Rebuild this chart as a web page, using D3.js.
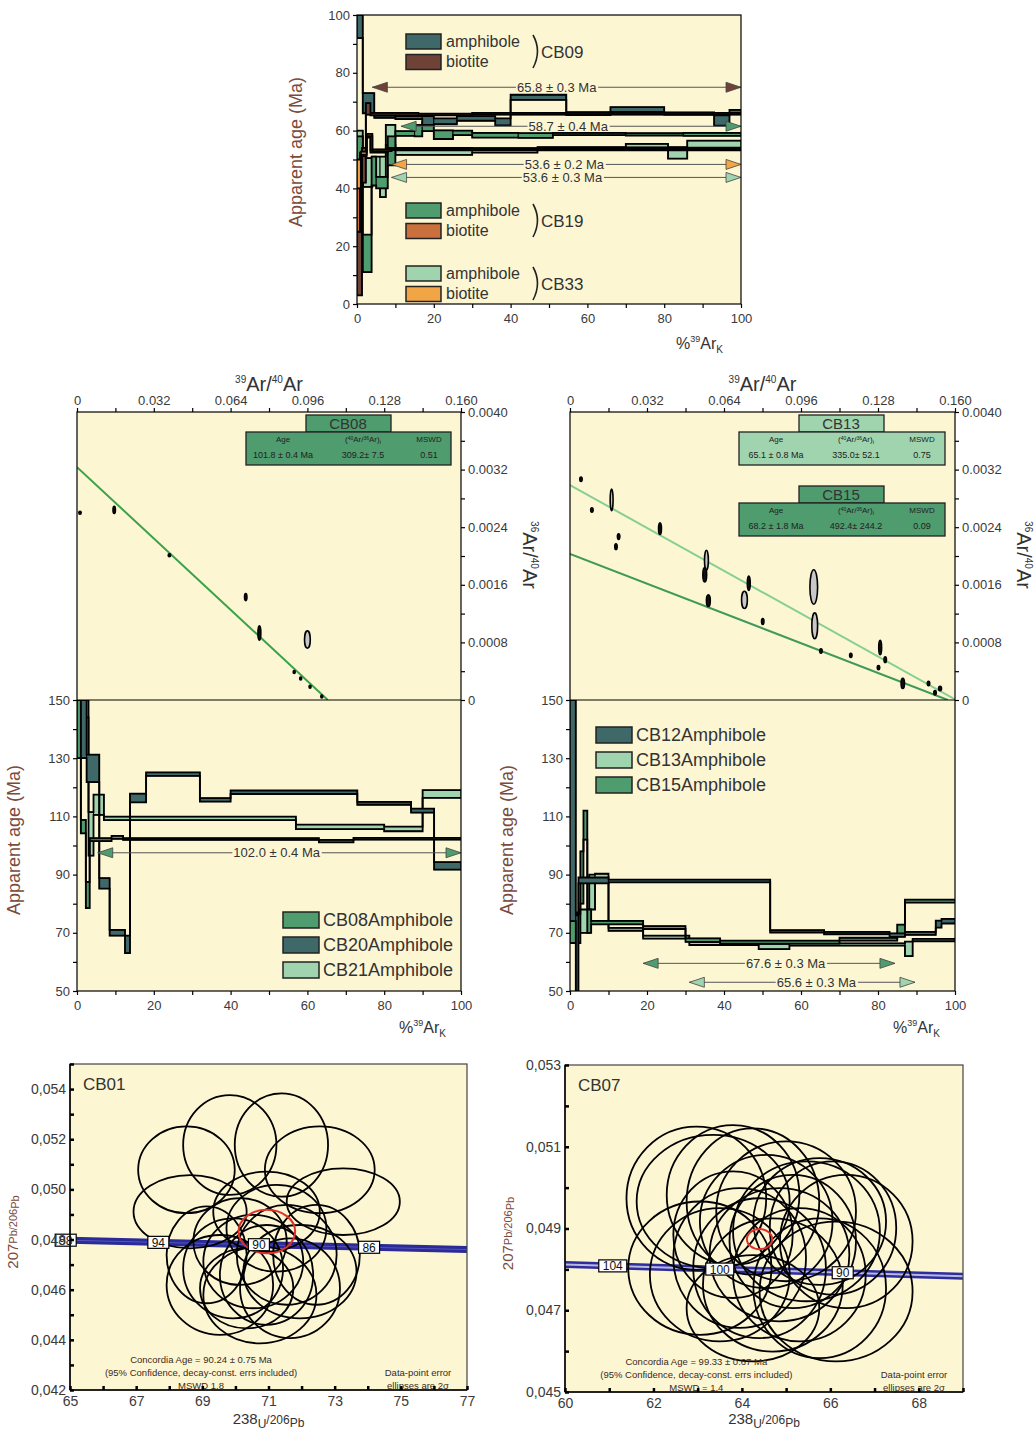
<!DOCTYPE html>
<html><head><meta charset="utf-8">
<script src="https://cdn.jsdelivr.net/npm/d3@7"></script>
<style>body{margin:0;background:#fff}text{font-family:"Liberation Sans",Arial,sans-serif}</style>
</head><body><svg id="c" width="1034" height="1430"></svg>
<script>
// ---------------- DATA ----------------
// step-heating spectra: [cumulative %39ArK at step end, apparent age (Ma), error (Ma)]
const cb09Amph = [[1.5,96,4],[4.5,69.5,3.5],[10,64.8,0.4],[17,64.5,0.5],[20,63.5,1.5],[26,63.2,1],[36,64.2,0.8],[40,63,1.2],[54.5,71.5,0.9],[66,65.9,0.5],[80,67.3,0.8],[93,65.9,0.4],[97,63.5,1.8],[100,66.5,0.7]];
const cb09Bio = [[1.3,14,11],[2.3,48,6],[3.5,67.5,2],[16,65.7,0.4],[30,65.6,0.3],[55,65.8,0.3],[100,65.8,0.3]];
const cb19Amph = [[1.5,50,8],[3.8,17.5,6.5],[5,46,5],[8,42,2],[10,53,5],[15,59,0.8],[17,60,2],[20,61.3,1.5],[25,58.6,1.5],[30,59.2,0.8],[42,58.4,0.8],[51,58.3,0.8],[70,58.8,0.4],[85,58.7,0.4],[100,58.7,0.5]];
const cb19Bio = [[0.8,35,10],[2.5,51.8,0.6],[3.5,58.2,0.6],[8,52.8,0.4],[30,53.7,0.3],[100,53.5,0.3]];
const cb33Amph = [[1.5,55,5],[4,45.5,5],[6,47,4],[7.5,44,7],[10,58.5,3.5],[30,52.4,0.8],[47,53,0.6],[70,53.8,0.5],[81,54.8,0.6],[86,52.3,2],[100,55.3,1.2]];
const cb33Bio = [[1,45,5],[2.5,52.2,0.5],[4,58.5,0.4],[9,53.2,0.3],[100,53.6,0.3]];

const cb08Amph = [[1,140,10],[2.3,106.5,2.3],[3.3,83,4.5],[9,102,0.5],[12,102.8,0.5],[63,102.2,0.3],[72,101.5,0.4],[100,102.3,0.3]];
const cb20Amph = [[2.5,140,10],[5.8,126.5,4.7],[8.5,87,1.8],[12.5,70,1],[13.8,66,3],[18,116.3,1.5],[32,124.5,0.6],[40,115.7,0.6],[73,118.3,0.6],[87,114.5,0.5],[93,112,0.7],[100,93,1.3]];
const cb21Amph = [[1.5,150,3],[3,147,3],[4.3,104,7.5],[7,114,3.5],[57,109.3,0.6],[80,106.4,0.8],[90,105.7,0.8],[100,117.7,1.3]];

const cb12Amph = [[1.5,112,38],[2.2,63,13],[10,88,1],[52,87.8,0.5],[66,70.5,0.4],[83,69.9,0.4],[87,69.2,0.6],[95,69.8,0.5],[96.5,73,1.2],[100,74,0.8]];
const cb13Amph = [[2.5,72,5],[5,74,4],[6.5,84,6],[10,88.7,1.6],[19,71.2,0.5],[31,68.5,0.5],[49,66.3,0.5],[57,65.3,0.9],[87,66.0,0.4],[89,64.5,2.5],[100,67.5,0.4]];
const cb15Amph = [[2.7,71.5,5],[3.5,89,9],[4.5,107,5],[5.5,74,4],[19,73.5,0.6],[30,71.8,0.5],[39,67.5,0.6],[70,66.8,0.5],[85,67.8,0.5],[87,71,1.8],[100,80.9,0.5]];

// plateau arrows: [from %, to %, y position (Ma), label, label centre %]
const topPlateaus = [[4,100,75,"65.8 ± 0.3 Ma",52],[11.5,100,61.5,"58.7 ± 0.4 Ma",55],[9,100,48.3,"53.6 ± 0.2 Ma",54],[9,100,43.8,"53.6 ± 0.3 Ma",53.5]];
const leftPlateaus = [[5.4,100,97.5,"102.0 ± 0.4 Ma",52]];
const rightPlateaus = [[19,84.4,59.5,"67.6 ± 0.3 Ma",56],[31,89.6,53,"65.6 ± 0.3 Ma",64]];

// inverse isochrons: [39Ar/40Ar, 36Ar/40Ar, half-width x, half-width y]
const cb08Iso = [[0.00125,0.0026,0.0005,0.00002],[0.0155,0.00264,0.0005,0.00005],[0.0385,0.00201,0.0005,0.00002],[0.0703,0.00143,0.0005,0.00005],[0.076,0.00093,0.0006,0.0001],[0.096,0.00084,0.0012,0.00012],[0.0905,0.00039,0.0004,0.00002],[0.0932,0.0003,0.0004,0.00002],[0.0971,0.000185,0.0004,0.00002],[0.102,0.00005,0.0004,0.00002]];
const cb1315Iso = [[0.00456,0.003065,0.0005,0.00003],[0.0091,0.00264,0.0005,0.00003],[0.0173,0.00278,0.0006,0.00015],[0.0202,0.00227,0.0005,0.00004],[0.0191,0.00213,0.0005,0.00004],[0.0374,0.00238,0.0006,0.00008],[0.0567,0.00194,0.0008,0.00014],[0.056,0.00174,0.0008,0.0001],[0.0575,0.00138,0.0008,0.00008],[0.0725,0.00139,0.0012,0.00012],[0.0743,0.00162,0.0006,0.0001],[0.0801,0.00109,0.0005,0.00004],[0.1013,0.00157,0.0016,0.00024],[0.1017,0.00103,0.0012,0.00018],[0.1043,0.00068,0.0005,0.00003],[0.1167,0.00062,0.0005,0.00003],[0.1289,0.00073,0.0006,0.0001],[0.1282,0.00045,0.0005,0.00003],[0.131,0.00056,0.0005,0.00004],[0.1383,0.00023,0.0007,0.00007],[0.149,0.00023,0.0005,0.00003],[0.1517,0.0001,0.0005,0.00003],[0.1538,0.00016,0.0006,0.00003]];
const cb08Line = [[0,0.003234],[0.1045,0]];
const cb13Line = [[0,0.002985],[0.1605,0]];
const cb15Line = [[0,0.00203],[0.157,0]];
const cb08Table = ["CB08","101.8 ± 0.4 Ma","309.2± 7.5","0.51"];
const cb13Table = ["CB13","65.1 ± 0.8 Ma","335.0± 52.1","0.75"];
const cb15Table = ["CB15","68.2 ± 1.8 Ma","492.4± 244.2","0.09"];

// concordia: ellipses [238U/206Pb, 207Pb/206Pb, half-axis x, half-axis y]
const cb01Ell = [[68.52,0.05078,1.46,0.00173],[69.83,0.05177,1.41,0.00199],[71.39,0.05177,1.41,0.00206],[72.55,0.05078,1.66,0.00173],[73.26,0.04951,1.71,0.00133],[68.63,0.04911,1.71,0.00146],[69.13,0.04739,1.21,0.00193],[69.93,0.04685,1.51,0.00199],[70.54,0.04712,1.51,0.00186],[70.94,0.04659,1.41,0.00199],[71.55,0.04739,1.51,0.00199],[71.95,0.04672,1.71,0.00186],[72.45,0.04739,1.31,0.00199],[70.74,0.04579,1.71,0.00193],[69.53,0.04619,1.61,0.00199],[70.14,0.04792,1.41,0.00173],[71.24,0.04845,1.51,0.00173],[71.65,0.04606,1.51,0.00199],[70.34,0.04606,1.41,0.0016],[70.94,0.04911,1.61,0.0016]];
const cb07Ell = [[62.97,0.04974,1.58,0.00175],[63.35,0.04966,1.73,0.00163],[63.80,0.04982,1.50,0.00171],[64.25,0.04966,1.50,0.00179],[64.55,0.04917,1.50,0.00163],[65.00,0.04942,1.58,0.00171],[65.46,0.04893,1.66,0.00171],[65.76,0.04917,1.50,0.00155],[66.06,0.04901,1.43,0.00163],[66.36,0.04868,1.50,0.00163],[63.05,0.04803,1.62,0.00163],[63.50,0.04787,1.58,0.00163],[63.95,0.04828,1.50,0.00171],[64.40,0.04803,1.50,0.00171],[64.85,0.04836,1.58,0.00163],[65.30,0.04787,1.50,0.00163],[65.76,0.04754,1.50,0.00171],[66.13,0.04746,1.73,0.00171],[64.70,0.04762,1.58,0.00163],[63.80,0.04885,1.35,0.00155],[65.15,0.04868,1.43,0.00163],[64.25,0.04705,1.50,0.0013]];
const cb01Mean = [70.95,0.04832,0.855,0.00087];
const cb07Mean = [64.40,0.04874,0.286,0.000245];
const cb01Curve = [[65,0.04797],[77,0.04760]];
const cb07Curve = [[60,0.04812],[69,0.04783]];
const cb01AgeLabels = [["98",64.87],["94",67.67],["90",70.71],["86",74.04]];
const cb07AgeLabels = [["104",61.08],["100",63.5],["90",66.28]];
const cb01Text = ["Concordia Age = 90.24 ± 0.75 Ma","(95% Confidence, decay-const. errs included)","MSWD 1.8"];
const cb07Text = ["Concordia Age = 99.33 ± 0.67 Ma","(95% Confidence, decay-const. errs included)","MSWD = 1.4"];

// ---------------- STYLE ----------------
const BG="#fdf6d3", cDark="#3f6868", cBrown="#6e4236", cGreen="#4f9c6e", cOrange="#c9703c", cLight="#9fd4ae", cLtOrange="#f2a544";
const labCol="#3a3a3a", titleCol="#7b4b3b";
const svg=d3.select("#c");
svg.append("rect").attr("width",1034).attr("height",1430).attr("fill","#fff");
let clipN=0;
function makeClip(x,y,w,h){const id="cl"+(clipN++);svg.append("clipPath").attr("id",id).append("rect").attr("x",x).attr("y",y).attr("width",w).attr("height",h);return "url(#"+id+")";}
function styleAxis(g,fs){g.select(".domain").remove();g.selectAll("line").attr("stroke","#000").attr("stroke-width",1.2);g.selectAll("text").attr("fill",labCol).style("font-size",(fs||12)+"px");}

function drawSpectrum(g,x,y,steps,color){
  let prev=0;const boxes=steps.map(s=>{const b={x0:prev,x1:s[0],lo:s[1]-s[2],hi:s[1]+s[2]};prev=s[0];return b;});
  g.append("g").selectAll("rect").data(boxes).join("rect").attr("x",d=>x(d.x0)).attr("width",d=>x(d.x1)-x(d.x0))
   .attr("y",d=>y(d.hi)).attr("height",d=>Math.max(1,y(d.lo)-y(d.hi))).attr("fill",color).attr("stroke","#000").attr("stroke-width",1);
  const up=[],lo=[];boxes.forEach(b=>{up.push([b.x0,b.hi],[b.x1,b.hi]);lo.push([b.x0,b.lo],[b.x1,b.lo]);});
  const ln=d3.line().x(d=>x(d[0])).y(d=>y(d[1]));
  g.append("path").attr("d",ln(up)).attr("fill","none").attr("stroke","#000").attr("stroke-width",1.8);
  g.append("path").attr("d",ln(lo)).attr("fill","none").attr("stroke","#000").attr("stroke-width",1.8);
}
function drawArrow(g,x,y,p,color,fs){
  const [a,b,yv,lab,cx]=p;const yy=y(yv),x1=x(a),x2=x(b);
  g.append("line").attr("x1",x1).attr("x2",x2).attr("y1",yy).attr("y2",yy).attr("stroke","#555").attr("stroke-width",1);
  g.append("path").attr("d",`M${x1},${yy}L${x1+15},${yy-5}L${x1+15},${yy+5}Z`).attr("fill",color).attr("stroke","#444").attr("stroke-width",0.8);
  g.append("path").attr("d",`M${x2},${yy}L${x2-15},${yy-5}L${x2-15},${yy+5}Z`).attr("fill",color).attr("stroke","#444").attr("stroke-width",0.8);
  const bgR=g.append("rect").attr("fill",BG);
  const t=g.append("text").attr("x",x(cx)).attr("y",yy+4.5).attr("text-anchor","middle").style("font-size",(fs||13)+"px").attr("fill","#333").text(lab);
  const bb=t.node().getBBox();
  bgR.attr("x",bb.x-1).attr("y",yy-1.5).attr("width",bb.width+2).attr("height",3);
}
function arK(g,xp,yp){
  const t=g.append("text").attr("x",xp).attr("y",yp).style("font-size","16px").attr("fill","#333");
  t.append("tspan").text("%");t.append("tspan").attr("dy",-7).style("font-size","9px").text("39");
  t.append("tspan").attr("dy",7).text("Ar");t.append("tspan").attr("dy",4).style("font-size","10px").text("K");
}
function appAge(xp,yp){
  svg.append("text").attr("transform",`translate(${xp},${yp}) rotate(-90)`).attr("text-anchor","middle").style("font-size","18px").attr("fill",titleCol).text("Apparent age (Ma)");
}

// ---------------- TOP PANEL ----------------
{
  const X0=357,X1=741,Y0=15,Y1=304;
  const x=d3.scaleLinear([0,100],[X0,X1]),y=d3.scaleLinear([0,100],[Y1,Y0]);
  svg.append("rect").attr("x",X0).attr("y",Y0).attr("width",X1-X0).attr("height",Y1-Y0).attr("fill",BG);
  const g=svg.append("g").attr("clip-path",makeClip(X0,Y0,X1-X0,Y1-Y0));
  drawSpectrum(g,x,y,cb33Amph,cLight);
  drawSpectrum(g,x,y,cb19Amph,cGreen);
  drawSpectrum(g,x,y,cb09Amph,cDark);
  drawSpectrum(g,x,y,cb09Bio,cBrown);
  drawSpectrum(g,x,y,cb19Bio,cOrange);
  drawSpectrum(g,x,y,cb33Bio,cLtOrange);
  const arrowCols=[cBrown,cGreen,cLtOrange,cLight];
  topPlateaus.forEach((p,i)=>drawArrow(svg,x,y,p,arrowCols[i],13));
  // legend
  const leg=[["CB09",[cDark,cBrown],34],["CB19",[cGreen,cOrange],203],["CB33",[cLight,cLtOrange],266]];
  leg.forEach(([name,cols,ty])=>{
    ["amphibole","biotite"].forEach((m,i)=>{
      const yy=ty+i*20.5;
      svg.append("rect").attr("x",406).attr("y",yy).attr("width",35).attr("height",15).attr("fill",cols[i]).attr("stroke","#222").attr("stroke-width",1.5);
      svg.append("text").attr("x",446).attr("y",yy+12.5).style("font-size","16px").attr("fill","#333").text(m);
    });
    svg.append("path").attr("d",`M533,${ty+1}Q542,${ty+17} 533,${ty+34}`).attr("fill","none").attr("stroke","#222").attr("stroke-width",1.6);
    svg.append("text").attr("x",541).attr("y",ty+24).style("font-size","17px").attr("fill","#333").text(name);
  });
  svg.append("rect").attr("x",X0).attr("y",Y0).attr("width",X1-X0).attr("height",Y1-Y0).attr("fill","none").attr("stroke","#000").attr("stroke-width",1.2);
  const ax=svg.append("g").attr("transform",`translate(0,${Y1})`).call(d3.axisBottom(x).tickValues(d3.range(0,101,10)).tickSize(4).tickFormat(d=>d%20===0?d:""));
  styleAxis(ax,13);ax.selectAll("text").attr("dy","0.9em");
  const ay=svg.append("g").attr("transform",`translate(${X0},0)`).call(d3.axisLeft(y).tickValues(d3.range(0,101,10)).tickSize(4).tickFormat(d=>d%20===0?d:""));
  styleAxis(ay,13);
  appAge(302,152);
  arK(svg,676,349);
}

// ---------------- MIDDLE PANELS ----------------
function middlePanel(X0,X1,isoData,lines,tables,spectra,legendNames,plateaus,plateauCols,legendPos){
  const Y0=412,YM=700,Y1=991;
  const ix=d3.scaleLinear([0,0.16],[X0,X1]),iy=d3.scaleLinear([0,0.004],[YM,Y0]);
  const sx=d3.scaleLinear([0,100],[X0,X1]),sy=d3.scaleLinear([50,150],[Y1,YM]);
  svg.append("rect").attr("x",X0).attr("y",Y0).attr("width",X1-X0).attr("height",Y1-Y0).attr("fill",BG);
  // isochron
  const gi=svg.append("g").attr("clip-path",makeClip(X0,Y0,X1-X0,YM-Y0));
  const ln=d3.line().x(d=>ix(d[0])).y(d=>iy(d[1]));
  lines.forEach(([pts,col,w])=>gi.append("path").attr("d",ln(pts)).attr("stroke",col).attr("stroke-width",w).attr("fill","none"));
  gi.selectAll("ellipse").data(isoData).join("ellipse").attr("cx",d=>ix(d[0])).attr("cy",d=>iy(d[1]))
    .attr("rx",d=>Math.max(1,ix(d[2])-ix(0))).attr("ry",d=>Math.max(1.2,iy(0)-iy(d[3])))
    .attr("fill",d=>(iy(0)-iy(d[3]))>8?"#c8c8c8":"#111").attr("stroke","#000").attr("stroke-width",1.6);
  // tables
  tables.forEach(([t,col,ty])=>{
    const bx=X0+169, bw=X1-10-bx;
    svg.append("rect").attr("x",bx+60).attr("y",ty).attr("width",85).attr("height",17).attr("fill",col).attr("stroke","#222").attr("stroke-width",1.3);
    svg.append("text").attr("x",bx+102).attr("y",ty+14).attr("text-anchor","middle").style("font-size","15px").attr("fill","#333").text(t[0]);
    svg.append("rect").attr("x",bx).attr("y",ty+17).attr("width",bw).attr("height",33).attr("fill",col).attr("stroke","#222").attr("stroke-width",1.3);
    const cols=[bx+37,bx+117,bx+183];
    const hdr=svg.append("g").style("font-size","8px").attr("fill","#222");
    hdr.append("text").attr("x",cols[0]).attr("y",ty+27).attr("text-anchor","middle").text("Age");
    const h2=hdr.append("text").attr("x",cols[1]).attr("y",ty+27).attr("text-anchor","middle");
    h2.append("tspan").text("(");h2.append("tspan").attr("dy",-2).style("font-size","5px").text("40");h2.append("tspan").attr("dy",2).text("Ar/");
    h2.append("tspan").attr("dy",-2).style("font-size","5px").text("36");h2.append("tspan").attr("dy",2).text("Ar)");h2.append("tspan").attr("dy",2).style("font-size","6px").text("i");
    hdr.append("text").attr("x",cols[2]).attr("y",ty+27).attr("text-anchor","middle").text("MSWD");
    [t[1],t[2],t[3]].forEach((v,i)=>svg.append("text").attr("x",cols[i]).attr("y",ty+43).attr("text-anchor","middle").style("font-size","9px").attr("fill","#222").text(v));
  });
  // spectra
  const gs=svg.append("g").attr("clip-path",makeClip(X0,YM,X1-X0,Y1-YM));
  spectra.forEach(([d,c])=>drawSpectrum(gs,sx,sy,d,c));
  plateaus.forEach((p,i)=>drawArrow(svg,sx,sy,p,plateauCols[i],13));
  // legend
  const gl=svg.append("g").attr("clip-path",makeClip(X0,YM,X1-X0,Y1-YM));
  legendNames.forEach(([name,col],i)=>{
    const yy=legendPos[1]+i*25;
    gl.append("rect").attr("x",legendPos[0]).attr("y",yy).attr("width",36).attr("height",16).attr("fill",col).attr("stroke","#222").attr("stroke-width",1.5);
    gl.append("text").attr("x",legendPos[0]+40).attr("y",yy+14).style("font-size","18px").attr("fill","#333").text(name);
  });
  // frame
  svg.append("rect").attr("x",X0).attr("y",Y0).attr("width",X1-X0).attr("height",Y1-Y0).attr("fill","none").attr("stroke","#000").attr("stroke-width",1.2);
  svg.append("line").attr("x1",X0).attr("x2",X1).attr("y1",YM).attr("y2",YM).attr("stroke","#000").attr("stroke-width",1.2);
  // axes
  const at=svg.append("g").attr("transform",`translate(0,${Y0})`).call(d3.axisTop(ix).tickValues(d3.range(0,11).map(i=>i*0.016)).tickSize(4).tickFormat((d,i)=>i%2===0?(i===0?"0":d.toFixed(3)):""));
  styleAxis(at,13);
  const ar=svg.append("g").attr("transform",`translate(${X1},0)`).call(d3.axisRight(iy).tickValues(d3.range(0,11).map(i=>i*0.0004)).tickSize(4).tickFormat((d,i)=>i%2===0?(i===0?"0":d.toFixed(4)):""));
  styleAxis(ar,13);
  const al=svg.append("g").attr("transform",`translate(${X0},0)`).call(d3.axisLeft(sy).tickValues(d3.range(50,151,10)).tickSize(4).tickFormat(d=>(d-50)%20===0?d:""));
  styleAxis(al,13);
  const ab=svg.append("g").attr("transform",`translate(0,${Y1})`).call(d3.axisBottom(sx).tickValues(d3.range(0,101,10)).tickSize(4).tickFormat(d=>d%20===0?d:""));
  styleAxis(ab,13);ab.selectAll("text").attr("dy","0.9em");
  // titles
  const cx=(X0+X1)/2;
  const tt=svg.append("text").attr("x",cx).attr("y",391).attr("text-anchor","middle").style("font-size","20px").attr("fill","#333");
  tt.append("tspan").style("font-size","10px").attr("baseline-shift","8").text("39");
  tt.append("tspan").text("Ar/");tt.append("tspan").style("font-size","10px").attr("baseline-shift","8").text("40");tt.append("tspan").text("Ar");
  const rt=svg.append("text").attr("transform",`translate(${X1+62},555) rotate(90)`).attr("text-anchor","middle").style("font-size","20px").attr("fill","#333");
  rt.append("tspan").style("font-size","10px").attr("baseline-shift","8").text("36");rt.append("tspan").text("Ar/");
  rt.append("tspan").style("font-size","10px").attr("baseline-shift","8").text("40");rt.append("tspan").text("Ar");
  appAge(X0-57,840);
  arK(svg,X1-62,1033);
}
middlePanel(77,461,cb08Iso,[[cb08Line,"#3aa24a",2]],[[cb08Table,cGreen,415]],
  [[cb21Amph,cLight],[cb20Amph,cDark],[cb08Amph,cGreen]],
  [["CB08Amphibole",cGreen],["CB20Amphibole",cDark],["CB21Amphibole",cLight]],leftPlateaus,[cGreen],[283,912]);
middlePanel(570,955,cb1315Iso,[[cb13Line,"#86cf92",2],[cb15Line,"#3f9a5a",2]],[[cb13Table,cLight,415],[cb15Table,cGreen,486]],
  [[cb13Amph,cLight],[cb15Amph,cGreen],[cb12Amph,cDark]],
  [["CB12Amphibole",cDark],["CB13Amphibole",cLight],["CB15Amphibole",cGreen]],rightPlateaus,[cGreen,cLight],[596,727]);

// ---------------- CONCORDIA PANELS ----------------
function concordia(X0,X1,Y0,Y1,xd,yd,xMajor,xMinor,yMajor,yMinor,ells,mean,curve,ageLabels,txt,name,doubleBand){
  const x=d3.scaleLinear(xd,[X0,X1]),y=d3.scaleLinear(yd,[Y1,Y0]);
  svg.append("rect").attr("x",X0).attr("y",Y0).attr("width",X1-X0).attr("height",Y1-Y0).attr("fill",BG);
  const g=svg.append("g").attr("clip-path",makeClip(X0,Y0,X1-X0,Y1-Y0));
  const ln=d3.line().x(d=>x(d[0])).y(d=>y(d[1]));
  if(doubleBand){
    g.append("path").attr("d",ln(curve)).attr("stroke","#2d2d9c").attr("stroke-width",7).attr("fill","none");
    g.append("path").attr("d",ln(curve)).attr("stroke","#b9b9e0").attr("stroke-width",2).attr("fill","none");
  } else {
    g.append("path").attr("d",ln(curve)).attr("stroke","#2a2a98").attr("stroke-width",7).attr("fill","none");
    g.append("path").attr("d",ln(curve)).attr("stroke","#5555b8").attr("stroke-width",1).attr("fill","none");
  }
  g.selectAll("ellipse.e").data(ells).join("ellipse").attr("cx",d=>x(d[0])).attr("cy",d=>y(d[1]))
    .attr("rx",d=>x(d[0]+d[2])-x(d[0])).attr("ry",d=>y(d[1])-y(d[1]+d[3])).attr("fill","none").attr("stroke","#000").attr("stroke-width",1.8);
  g.append("ellipse").attr("cx",x(mean[0])).attr("cy",y(mean[1])).attr("rx",x(mean[0]+mean[2])-x(mean[0])).attr("ry",y(mean[1])-y(mean[1]+mean[3]))
    .attr("fill","none").attr("stroke","#e0302a").attr("stroke-width",2);
  // age labels on concordia
  const interp=d3.scaleLinear(curve.map(c=>c[0]),curve.map(c=>c[1]));
  ageLabels.forEach(([lab,xv])=>{
    const px=x(xv),py=y(interp(xv)),w=lab.length*7+7;
    svg.append("rect").attr("x",px-w/2).attr("y",py-6).attr("width",w).attr("height",12).attr("fill","#fff").attr("stroke","#000").attr("stroke-width",1.2);
    svg.append("text").attr("x",px).attr("y",py+4.5).attr("text-anchor","middle").style("font-size","12px").attr("fill","#111").text(lab);
  });
  // texts
  const tcx=X0+(X1-X0)*0.33;
  txt.forEach((t,i)=>svg.append("text").attr("x",tcx).attr("y",Y1-27+i*13).attr("text-anchor","middle").style("font-size","9.5px").attr("fill","#3a2a20").text(t));
  ["Data-point error","ellipses are 2σ"].forEach((t,i)=>svg.append("text").attr("x",X1-49).attr("y",Y1-14+i*13).attr("text-anchor","middle").style("font-size","9.5px").attr("fill","#3a2a20").text(t));
  svg.append("text").attr("x",X0+13).attr("y",Y0+26).style("font-size","17px").attr("fill","#333").text(name);
  svg.append("rect").attr("x",X0).attr("y",Y0).attr("width",X1-X0).attr("height",Y1-Y0).attr("fill","none").attr("stroke","#444").attr("stroke-width",1.2);
  // axes (inward ticks)
  const fmtY=d=>d3.format(".3f")(d).replace(".",",");
  const ab=svg.append("g").attr("transform",`translate(0,${Y1})`).call(d3.axisBottom(x).tickValues(xMajor.concat(xMinor)).tickSizeInner(-4).tickSizeOuter(0).tickPadding(6).tickFormat(d=>xMajor.includes(d)?d:""));
  styleAxis(ab,14);ab.selectAll("line").attr("stroke-width",2.5);
  const al=svg.append("g").attr("transform",`translate(${X0},0)`).call(d3.axisLeft(y).tickValues(yMajor.concat(yMinor)).tickSizeInner(-4).tickSizeOuter(0).tickPadding(4).tickFormat(d=>yMajor.includes(d)?fmtY(d):""));
  styleAxis(al,14);al.selectAll("line").attr("stroke-width",2.5);
  svg.append("line").attr("x1",X0).attr("x2",X1).attr("y1",Y1).attr("y2",Y1).attr("stroke","#000").attr("stroke-width",1.5);
  svg.append("line").attr("x1",X0).attr("x2",X0).attr("y1",Y0).attr("y2",Y1).attr("stroke","#000").attr("stroke-width",1.5);
  // axis titles
  const cx=(X0+X1)/2;
  const xt=svg.append("text").attr("x",cx).attr("y",1424).attr("text-anchor","middle").style("font-size","15px").attr("fill","#333");
  xt.append("tspan").text("238");xt.append("tspan").style("font-size","12px").attr("dy",4).text("U");xt.append("tspan").style("font-size","12px").attr("dy",-4).text("/206");xt.append("tspan").style("font-size","12px").attr("dy",3).text("Pb");
  const yt=svg.append("text").attr("transform",`translate(${X0-52},${(Y0+Y1)/2+5}) rotate(-90)`).attr("text-anchor","middle").style("font-size","15px").attr("fill",titleCol);
  yt.append("tspan").text("207");yt.append("tspan").style("font-size","11px").attr("dy",-1).text("Pb/206");yt.append("tspan").style("font-size","11px").attr("dy",2).text("Pb");
}
const r=(a,b,s)=>d3.range(a,b+s/2,s).map(v=>+v.toFixed(4));
concordia(70,467,1064,1390,[65,77],[0.042,0.055],r(65,77,2),r(66,76,2),r(0.042,0.054,0.002),r(0.043,0.055,0.002),cb01Ell,cb01Mean,cb01Curve,cb01AgeLabels,cb01Text,"CB01",false);
concordia(565,963,1065,1392,[60,69],[0.045,0.053],r(60,68,2),r(61,69,2),r(0.045,0.053,0.002),r(0.046,0.052,0.002),cb07Ell,cb07Mean,cb07Curve,cb07AgeLabels,cb07Text,"CB07",true);
</script></body></html>
